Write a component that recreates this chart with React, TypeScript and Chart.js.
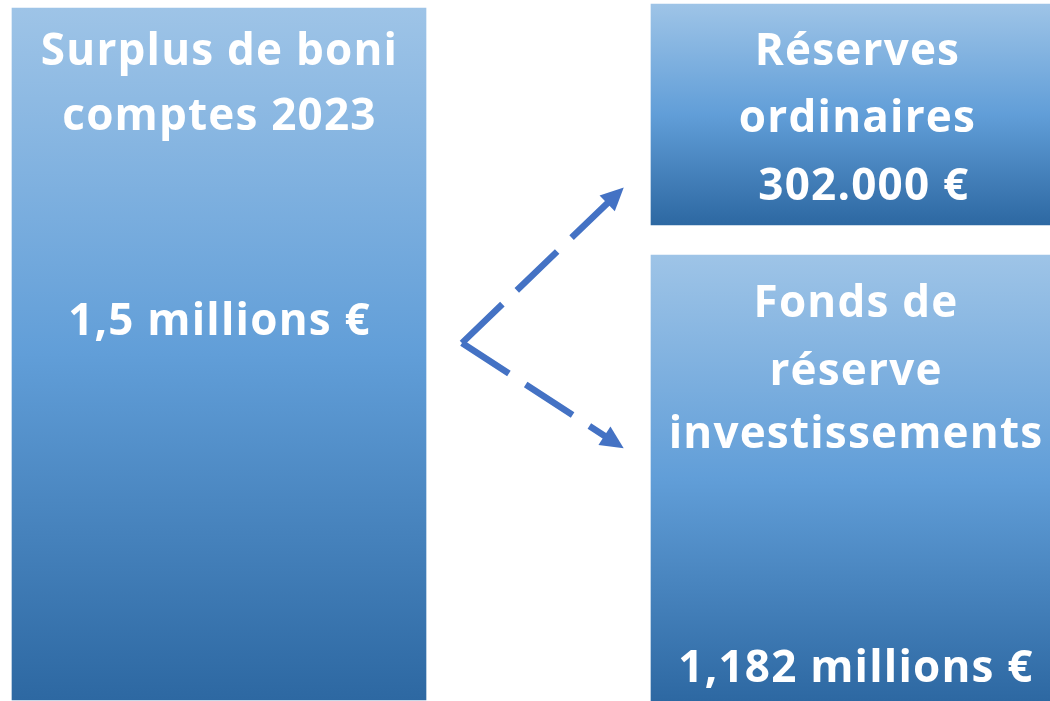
import React, { useEffect, useRef } from "react";
import { Chart, registerables } from "chart.js";

Chart.register(...registerables);

// ---- content ----
const boxTitles: string[][] = [
  ["Surplus de boni", "comptes 2023"],
  ["Réserves", "ordinaires"],
  ["Fonds de", "réserve", "investissements"],
];
const boxAmounts: string[] = ["1,5 millions €", " 302.000 €", "1,182 millions €"];

// ---- diagram layout (in diagram units of a 1050 x 701 frame) ----
const boxCenterX: number[] = [219, 850.5, 850.5];
const boxWidth: number[] = [414, 399, 399];
const boxRange: number[][] = [
  [8, 700],
  [4, 225],
  [255, 701],
];
const textCenterX: number[] = [219.5, 857.5, 856];
const titleBaselines: number[][] = [
  [65, 130],
  [65, 132],
  [317, 385, 448],
];
const amountBaselines: number[] = [335, 200, 682];

const arrowStart: number[] = [462, 343];
const arrowEndsX: number[] = [618, 617];
const arrowEndsY: number[] = [193, 444];

const FRAME_W = 1050;
const FRAME_H = 701;

const GRAD_TOP = "rgb(158,196,231)";
const GRAD_MID = "rgb(97,158,216)";
const GRAD_BOT = "rgb(45,104,162)";
const ARROW_COLOR = "#4472C4";
const FONT = "bold 44px 'Open Sans'";
const LETTER_SPACING = "1.2px";

const textPlugin = {
  id: "boxText",
  afterDatasetsDraw(chart: any) {
    const ctx = chart.ctx;
    const xs = chart.scales.x;
    const ys = chart.scales.y;
    ctx.save();
    ctx.fillStyle = "#ffffff";
    ctx.font = FONT;
    try {
      (ctx as any).letterSpacing = LETTER_SPACING;
    } catch (e) {
      /* ignore */
    }
    ctx.textAlign = "center";
    ctx.textBaseline = "alphabetic";
    boxTitles.forEach((lines, i) => {
      const cx = xs.getPixelForValue(textCenterX[i]);
      lines.forEach((line, j) => {
        ctx.fillText(line, cx, ys.getPixelForValue(titleBaselines[i][j]));
      });
      ctx.fillText(boxAmounts[i], cx, ys.getPixelForValue(amountBaselines[i]));
    });
    ctx.restore();
  },
};

const arrowHeadPlugin = {
  id: "arrowHeads",
  afterDatasetsDraw(chart: any) {
    const ctx = chart.ctx;
    chart.data.datasets.forEach((ds: any, i: number) => {
      if (ds.type !== "line") return;
      const meta = chart.getDatasetMeta(i);
      const pts = meta.data;
      if (pts.length < 2) return;
      const a = pts[pts.length - 2];
      const b = pts[pts.length - 1];
      const dx = b.x - a.x;
      const dy = b.y - a.y;
      const len = Math.hypot(dx, dy);
      const ux = dx / len;
      const uy = dy / len;
      const tipX = b.x + ux * 8;
      const tipY = b.y + uy * 8;
      const headLen = 23;
      const half = 11;
      const bx = tipX - ux * headLen;
      const by = tipY - uy * headLen;
      ctx.save();
      ctx.fillStyle = ARROW_COLOR;
      ctx.beginPath();
      ctx.moveTo(tipX, tipY);
      ctx.lineTo(bx - uy * half, by + ux * half);
      ctx.lineTo(bx + uy * half, by - ux * half);
      ctx.closePath();
      ctx.fill();
      ctx.restore();
    });
  },
};

export default function App() {
  const canvasRef = useRef<HTMLCanvasElement | null>(null);

  useEffect(() => {
    if (!canvasRef.current) return;

    const barDatasets = boxTitles.map((_, i) => ({
      type: "bar" as const,
      label: boxTitles[i].join(" "),
      data: [{ x: boxCenterX[i], y: boxRange[i] }],
      maxBarThickness: boxWidth[i],
      barPercentage: 1,
      categoryPercentage: 1,
      grouped: false,
      borderWidth: 0,
      borderSkipped: false,
      backgroundColor: (c: any) => {
        const chart = c.chart;
        const ys = chart.scales && chart.scales.y;
        if (!ys || !chart.chartArea) return GRAD_MID;
        const r = boxRange[c.datasetIndex];
        const p0 = ys.getPixelForValue(r[0]);
        const p1 = ys.getPixelForValue(r[1]);
        const top = Math.min(p0, p1);
        const bot = Math.max(p0, p1);
        if (!isFinite(top) || !isFinite(bot) || top === bot) return GRAD_MID;
        const g = chart.ctx.createLinearGradient(0, top, 0, bot);
        g.addColorStop(0, GRAD_TOP);
        g.addColorStop(0.5, GRAD_MID);
        g.addColorStop(1, GRAD_BOT);
        return g;
      },
    }));

    const arrowDatasets = arrowEndsX.map((ex, i) => ({
      type: "line" as const,
      label: "arrow" + i,
      data: [
        { x: arrowStart[0], y: arrowStart[1] },
        { x: ex, y: arrowEndsY[i] },
      ],
      borderColor: ARROW_COLOR,
      borderWidth: 6.5,
      borderDash: [56, 20],
      borderCapStyle: "butt" as const,
      pointRadius: 0,
      fill: false,
      tension: 0,
    }));

    const chart = new Chart(canvasRef.current, {
      type: "bar",
      data: { datasets: [...barDatasets, ...arrowDatasets] as any },
      options: {
        animation: false,
        responsive: false,
        events: [],
        layout: { padding: 0 },
        plugins: {
          legend: { display: false },
          tooltip: { enabled: false },
          title: { display: false },
        },
        scales: {
          x: {
            type: "linear",
            min: 0,
            max: FRAME_W,
            display: false,
            offset: false,
            ticks: { stepSize: FRAME_W },
          },
          y: { type: "linear", min: 0, max: FRAME_H, reverse: true, display: false },
        },
      },
      plugins: [textPlugin, arrowHeadPlugin],
    });

    return () => chart.destroy();
  }, []);

  return (
    <div style={{ position: "fixed", left: 0, top: 0, width: FRAME_W, height: FRAME_H, background: "#fff" }}>
      <canvas ref={canvasRef} width={FRAME_W} height={FRAME_H} style={{ display: "block" }} />
    </div>
  );
}
